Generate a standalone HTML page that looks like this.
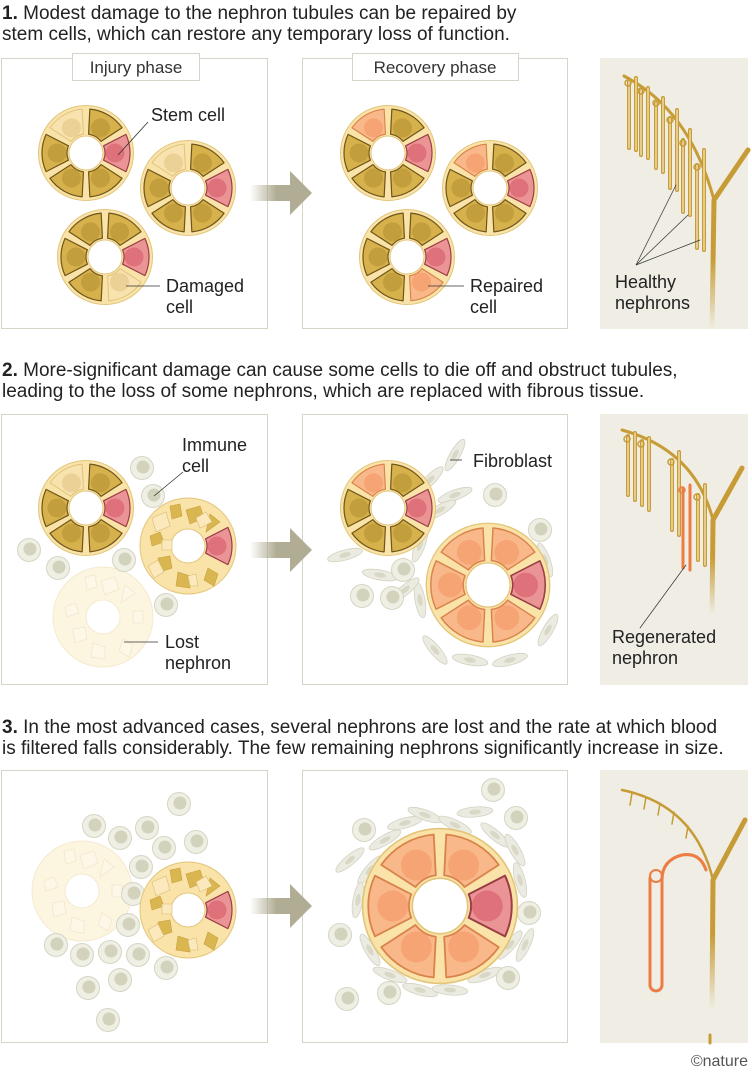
<!DOCTYPE html>
<html><head><meta charset="utf-8"><style>
html,body{margin:0;padding:0;background:#fff}
body{width:752px;height:1075px;overflow:hidden;font-family:"Liberation Sans",sans-serif}
</style></head><body>
<svg width="752" height="1075" viewBox="0 0 752 1075" xmlns="http://www.w3.org/2000/svg" font-family="Liberation Sans, sans-serif">
<defs>
<path id="w" d="M17.6,-7.2 L39.9,-18.6 A44 44 0 0 1 39.9,18.6 L17.6,7.2 A19 19 0 0 0 17.6,-7.2 Z" stroke-linejoin="round"/>
<g id="cG"><use href="#w" fill="#d6b14c" stroke="#6f5518" stroke-width="1.2"/><circle cx="29" r="9.5" fill="#c39e3c"/></g>
<g id="cP"><use href="#w" fill="#f8e3af" stroke="#e0c27c" stroke-width="1"/><circle cx="29" r="9.5" fill="#ecd196"/></g>
<g id="cR"><use href="#w" fill="#eb9496" stroke="#9a3d44" stroke-width="1.2"/><circle cx="29" r="9.5" fill="#de7179"/></g>
<g id="cO"><use href="#w" fill="#f9b88a" stroke="#d9824a" stroke-width="1.1"/><circle cx="29" r="9.5" fill="#f6a473"/></g>
<g id="ring"><circle r="47.5" fill="#f9e3a8" stroke="#e3c57a" stroke-width="1"/><circle r="17" fill="#fff" stroke="#e3c57a" stroke-width="1"/></g>
<g id="frag"><circle r="48" fill="#f9e3a8" stroke="#e3c57a" stroke-width="1"/><circle r="17" fill="#fff" stroke="#e3c57a"/>
<use href="#cR"/>
<path d="M-18,-40 l10,-2 2,12 -10,3z M-2,-36 l14,-4 4,12 -14,6z M-38,-10 l10,-4 4,10 -12,4z M-30,12 l12,-2 2,12 -12,4z M-10,26 l12,4 0,12 -14,-2z M20,22 l10,6 -4,12 -10,-6z M22,-32 l10,8 -14,10z" fill="#d9b64f" stroke="#c9a040" stroke-width="0.6"/>
<path d="M-36,-28 l14,-6 4,14 -14,6z M-40,20 l10,-6 6,12 -10,6z M8,-28 l10,-6 6,10 -12,6z M0,30 l8,-2 2,12 -8,0z M-26,-6 l10,0 0,10 -10,0z" fill="#fbe9bd" stroke="#d9bb70" stroke-width="0.6"/>
</g>
<g id="lost" opacity="0.35"><circle r="50" fill="#f9e3a8" stroke="#e3c57a"/><circle r="17" fill="#fff" stroke="#e3c57a"/>
<path d="M-18,-40 l10,-2 2,12 -10,3z M-2,-36 l14,-4 4,12 -14,6z M-38,-10 l10,-4 4,10 -12,4z M-30,12 l12,-2 2,12 -12,4z M-10,26 l12,4 0,12 -14,-2z M20,22 l10,6 -4,12 -10,-6z M22,-32 l10,8 -14,10z M30,-6 l10,0 0,12 -10,0z" fill="#fbeac0" stroke="#d9bb70" stroke-width="0.8"/></g>
<g id="im"><circle r="11.5" fill="#efefe4" stroke="#d5d5c4"/><circle cx="1" cy="-1" r="6.5" fill="#d3d2bd"/></g>
<g id="fb"><ellipse rx="18" ry="5" fill="#ecebe1" stroke="#d3d2c2" stroke-width="0.8"/><ellipse rx="6" ry="2.5" fill="#d9d8c7"/></g>
<linearGradient id="ag" x1="0" x2="1"><stop offset="0" stop-color="#b0ad94" stop-opacity="0"/><stop offset="0.6" stop-color="#b0ad94"/></linearGradient>
<g id="arrow"><rect x="0" y="-8" width="44" height="16" fill="url(#ag)"/><path d="M40,-22 L62,0 L40,22Z" fill="#b0ad94"/></g>
<linearGradient id="tr" x1="0" y1="0" x2="0" y2="1"><stop offset="0.6" stop-color="#c79c36"/><stop offset="1" stop-color="#c79c36" stop-opacity="0"/></linearGradient>
</defs>

<g font-size="19" fill="#222">
<text x="2" y="19"><tspan font-weight="bold">1.</tspan> Modest damage to the nephron tubules can be repaired by</text>
<text x="2" y="40">stem cells, which can restore any temporary loss of function.</text>
<text x="2" y="376"><tspan font-weight="bold">2.</tspan> More-significant damage can cause some cells to die off and obstruct tubules,</text>
<text x="2" y="397">leading to the loss of some nephrons, which are replaced with fibrous tissue.</text>
<text x="2" y="733"><tspan font-weight="bold">3.</tspan> In the most advanced cases, several nephrons are lost and the rate at which blood</text>
<text x="2" y="754">is filtered falls considerably. The few remaining nephrons significantly increase in size.</text>
</g>

<g fill="#fff" stroke="#d6d4c4" stroke-width="1">
<rect x="1.5" y="58.5" width="266" height="270"/><rect x="302.5" y="58.5" width="265" height="270"/>
<rect x="1.5" y="414.5" width="266" height="270"/><rect x="302.5" y="414.5" width="265" height="270"/>
<rect x="1.5" y="770.5" width="266" height="272"/><rect x="302.5" y="770.5" width="265" height="272"/>
</g>
<g fill="#efede4"><rect x="600" y="58" width="148" height="271"/><rect x="600" y="414" width="148" height="271"/><rect x="600" y="770" width="148" height="273"/></g>
<g fill="#fff" stroke="#d6d4c4"><rect x="72.5" y="53.5" width="127" height="27"/><rect x="352.5" y="53.5" width="166" height="27"/></g>
<g font-size="17" fill="#333"><text x="136" y="73" text-anchor="middle">Injury phase</text><text x="435" y="73" text-anchor="middle">Recovery phase</text></g>

<use href="#arrow" transform="translate(250,193)"/>
<use href="#arrow" transform="translate(250,550)"/>
<use href="#arrow" transform="translate(250,906)"/>

<g transform="translate(86,153)"><use href="#ring"/><use href="#cR"/><use href="#cG" transform="rotate(60)"/><use href="#cG" transform="rotate(120)"/><use href="#cG" transform="rotate(180)"/><use href="#cP" transform="rotate(240)"/><use href="#cG" transform="rotate(300)"/></g>
<g transform="translate(188,188)"><use href="#ring"/><use href="#cR"/><use href="#cG" transform="rotate(60)"/><use href="#cG" transform="rotate(120)"/><use href="#cG" transform="rotate(180)"/><use href="#cP" transform="rotate(240)"/><use href="#cG" transform="rotate(300)"/></g>
<g transform="translate(105,257)"><use href="#ring"/><use href="#cR"/><use href="#cP" transform="rotate(60)"/><use href="#cG" transform="rotate(120)"/><use href="#cG" transform="rotate(180)"/><use href="#cG" transform="rotate(240)"/><use href="#cG" transform="rotate(300)"/></g>
<g stroke="#333" stroke-width="0.8"><line x1="118" y1="155" x2="148" y2="122"/><line x1="126" y1="286" x2="160" y2="286"/></g>
<g font-size="18" fill="#222"><text x="151" y="121">Stem cell</text><text x="166" y="292">Damaged</text><text x="166" y="313">cell</text></g>

<g transform="translate(388,153)"><use href="#ring"/><use href="#cR"/><use href="#cG" transform="rotate(60)"/><use href="#cG" transform="rotate(120)"/><use href="#cG" transform="rotate(180)"/><use href="#cO" transform="rotate(240)"/><use href="#cG" transform="rotate(300)"/></g>
<g transform="translate(490,188)"><use href="#ring"/><use href="#cR"/><use href="#cG" transform="rotate(60)"/><use href="#cG" transform="rotate(120)"/><use href="#cG" transform="rotate(180)"/><use href="#cO" transform="rotate(240)"/><use href="#cG" transform="rotate(300)"/></g>
<g transform="translate(407,257)"><use href="#ring"/><use href="#cR"/><use href="#cO" transform="rotate(60)"/><use href="#cG" transform="rotate(120)"/><use href="#cG" transform="rotate(180)"/><use href="#cG" transform="rotate(240)"/><use href="#cG" transform="rotate(300)"/></g>
<line x1="428" y1="286" x2="464" y2="286" stroke="#333" stroke-width="0.8"/>
<g font-size="18" fill="#222"><text x="470" y="292">Repaired</text><text x="470" y="313">cell</text></g>

<g fill="none" stroke-linecap="round">
<path d="M712,330 L714,200 L748,150" stroke="url(#tr)" stroke-width="5"/>
<path d="M714,200 Q690,110 624,76" stroke="#c79c36" stroke-width="3"/>
<g stroke="#c79c36" stroke-width="4">
<path d="M629,80 L629,148 M636,78 L636,150"/><path d="M641,90 L641,155 M648,88 L648,158"/><path d="M656,103 L656,168 M663,98 L663,172"/>
<path d="M670,118 L670,188 M677,110 L677,190"/><path d="M683,140 L683,212 M690,130 L690,215"/><path d="M697,165 L697,248 M704,150 L704,250"/>
</g>
<g stroke="#f7e6b8" stroke-width="1.3">
<path d="M629,80 L629,148 M636,78 L636,150"/><path d="M641,90 L641,155 M648,88 L648,158"/><path d="M656,103 L656,168 M663,98 L663,172"/>
<path d="M670,118 L670,188 M677,110 L677,190"/><path d="M683,140 L683,212 M690,130 L690,215"/><path d="M697,165 L697,248 M704,150 L704,250"/>
</g>
<g stroke="#c79c36" stroke-width="1.5"><circle cx="628" cy="83" r="3"/><circle cx="641" cy="91" r="3"/><circle cx="656" cy="103" r="3"/><circle cx="670" cy="120" r="3"/><circle cx="683" cy="143" r="3"/><circle cx="697" cy="167" r="3"/></g>
<g stroke="#333" stroke-width="0.7"><path d="M636,265 L676,185 M636,265 L688,215 M636,265 L700,240"/></g>
</g>
<g font-size="18" fill="#222"><text x="615" y="288">Healthy</text><text x="615" y="309">nephrons</text></g>

<use href="#lost" transform="translate(103,617)"/>
<g transform="translate(86,508)"><use href="#ring"/><use href="#cR"/><use href="#cG" transform="rotate(60)"/><use href="#cG" transform="rotate(120)"/><use href="#cG" transform="rotate(180)"/><use href="#cP" transform="rotate(240)"/><use href="#cG" transform="rotate(300)"/></g>
<use href="#frag" transform="translate(188,546)"/>
<use href="#im" transform="translate(142,468)"/><use href="#im" transform="translate(153,496)"/><use href="#im" transform="translate(29,550)"/><use href="#im" transform="translate(58,568)"/><use href="#im" transform="translate(124,560)"/><use href="#im" transform="translate(166,605)"/>
<g stroke="#333" stroke-width="0.8"><line x1="154" y1="496" x2="183" y2="472"/><line x1="124" y1="642" x2="158" y2="642"/></g>
<g font-size="18" fill="#222"><text x="182" y="451">Immune</text><text x="182" y="472">cell</text><text x="165" y="648">Lost</text><text x="165" y="669">nephron</text></g>

<use href="#fb" transform="translate(455,455) rotate(-60)"/><use href="#fb" transform="translate(430,480) rotate(-45)"/><use href="#fb" transform="translate(455,495) rotate(-20)"/>
<use href="#fb" transform="translate(345,555) rotate(-15)"/><use href="#fb" transform="translate(380,575) rotate(10)"/><use href="#fb" transform="translate(420,600) rotate(80)"/><use href="#fb" transform="translate(420,545) rotate(-70)"/>
<use href="#fb" transform="translate(405,590) rotate(-40)"/><use href="#fb" transform="translate(435,650) rotate(50)"/><use href="#fb" transform="translate(470,660) rotate(10)"/><use href="#fb" transform="translate(510,660) rotate(-15)"/>
<use href="#fb" transform="translate(548,630) rotate(-60)"/><use href="#fb" transform="translate(370,535) rotate(30)"/>
<use href="#fb" transform="translate(440,510) rotate(-30)"/><use href="#fb" transform="translate(545,560) rotate(70)"/>
<use href="#im" transform="translate(495,495)"/><use href="#im" transform="translate(403,570)"/><use href="#im" transform="translate(362,596)"/><use href="#im" transform="translate(392,598)"/><use href="#im" transform="translate(540,530)"/>
<g transform="translate(388,508)"><use href="#ring"/><use href="#cR"/><use href="#cG" transform="rotate(60)"/><use href="#cG" transform="rotate(120)"/><use href="#cG" transform="rotate(180)"/><use href="#cO" transform="rotate(240)"/><use href="#cG" transform="rotate(300)"/></g>
<g transform="translate(488,585) scale(1.3)"><use href="#ring"/><use href="#cR"/><use href="#cO" transform="rotate(60)"/><use href="#cO" transform="rotate(120)"/><use href="#cO" transform="rotate(180)"/><use href="#cO" transform="rotate(240)"/><use href="#cO" transform="rotate(300)"/></g>
<line x1="450" y1="460" x2="462" y2="460" stroke="#333" stroke-width="0.8"/>
<text x="473" y="467" font-size="18" fill="#222">Fibroblast</text>

<g fill="none" stroke-linecap="round">
<path d="M712,615 L713,520 L742,468" stroke="url(#tr)" stroke-width="5"/>
<path d="M713,520 Q695,450 622,430" stroke="#c79c36" stroke-width="3"/>
<g stroke="#c79c36" stroke-width="4"><path d="M628,436 L628,495 M635,433 L635,500"/><path d="M642,441 L642,505 M649,438 L649,510"/><path d="M672,460 L672,530 M679,452 L679,535"/><path d="M698,495 L698,560 M705,485 L705,565"/></g>
<g stroke="#f7e6b8" stroke-width="1.3"><path d="M628,436 L628,495 M635,433 L635,500"/><path d="M642,441 L642,505 M649,438 L649,510"/><path d="M672,460 L672,530 M679,452 L679,535"/><path d="M698,495 L698,560 M705,485 L705,565"/></g>
<path d="M683,488 L683,568 M690,485 L690,570" stroke="#ee7d45" stroke-width="3"/>
<g stroke="#c79c36" stroke-width="1.5"><circle cx="627" cy="439" r="3"/><circle cx="641" cy="444" r="3"/><circle cx="671" cy="462" r="3"/><circle cx="697" cy="497" r="3"/></g>
<circle cx="682" cy="490" r="3" stroke="#ee7d45" stroke-width="1.5"/>
<line x1="640" y1="628" x2="686" y2="565" stroke="#333" stroke-width="0.7"/>
</g>
<g font-size="18" fill="#222"><text x="612" y="643">Regenerated</text><text x="612" y="664">nephron</text></g>

<use href="#lost" transform="translate(82,891)"/>
<use href="#im" transform="translate(179,804)"/><use href="#im" transform="translate(94,826)"/><use href="#im" transform="translate(120,838)"/><use href="#im" transform="translate(147,828)"/><use href="#im" transform="translate(164,848)"/><use href="#im" transform="translate(196,842)"/><use href="#im" transform="translate(141,867)"/><use href="#im" transform="translate(133,894)"/>
<use href="#frag" transform="translate(188,910)"/>
<use href="#im" transform="translate(128,925)"/><use href="#im" transform="translate(56,945)"/><use href="#im" transform="translate(82,955)"/><use href="#im" transform="translate(110,952)"/><use href="#im" transform="translate(138,955)"/><use href="#im" transform="translate(166,968)"/><use href="#im" transform="translate(88,988)"/><use href="#im" transform="translate(120,980)"/><use href="#im" transform="translate(108,1020)"/>

<g>
<use href="#fb" transform="translate(405,823) rotate(-15)"/><use href="#fb" transform="translate(425,815) rotate(20)"/><use href="#fb" transform="translate(475,812) rotate(-5)"/><use href="#fb" transform="translate(455,825) rotate(25)"/><use href="#fb" transform="translate(495,835) rotate(40)"/><use href="#fb" transform="translate(515,850) rotate(60)"/>
<use href="#fb" transform="translate(385,840) rotate(-30)"/><use href="#fb" transform="translate(350,860) rotate(-40)"/><use href="#fb" transform="translate(370,870) rotate(-50)"/><use href="#fb" transform="translate(358,900) rotate(-80)"/>
<use href="#fb" transform="translate(370,950) rotate(60)"/><use href="#fb" transform="translate(390,975) rotate(20)"/><use href="#fb" transform="translate(420,990) rotate(15)"/><use href="#fb" transform="translate(450,990) rotate(5)"/><use href="#fb" transform="translate(485,975) rotate(-20)"/>
<use href="#fb" transform="translate(510,945) rotate(-50)"/><use href="#fb" transform="translate(525,945) rotate(-65)"/><use href="#fb" transform="translate(520,880) rotate(75)"/>
<use href="#im" transform="translate(493,790)"/><use href="#im" transform="translate(516,818)"/><use href="#im" transform="translate(364,830)"/><use href="#im" transform="translate(529,913)"/><use href="#im" transform="translate(340,935)"/><use href="#im" transform="translate(508,978)"/><use href="#im" transform="translate(389,993)"/><use href="#im" transform="translate(347,999)"/>
<g transform="translate(440,906) scale(1.63)"><use href="#ring"/><use href="#cR"/><use href="#cO" transform="rotate(60)"/><use href="#cO" transform="rotate(120)"/><use href="#cO" transform="rotate(180)"/><use href="#cO" transform="rotate(240)"/><use href="#cO" transform="rotate(300)"/></g>
</g>

<g fill="none" stroke-linecap="round">
<path d="M712,1010 L713,880 L745,820" stroke="url(#tr)" stroke-width="5"/>
<path d="M713,880 Q695,805 622,790" stroke="#c79c36" stroke-width="2.5"/>
<g stroke="#c79c36" stroke-width="1.5"><path d="M632,793 l-2,12 M646,797 l-2,12 M660,803 l-2,12 M674,812 l-2,12 M688,826 l-2,12"/></g>
<path d="M650,878 L650,985 A6 6 0 0 0 662,985 L662,880 Q662,860 682,855 Q700,852 706,870" stroke="#ee7d45" stroke-width="3"/>
<circle cx="656" cy="876" r="6" stroke="#ee7d45" stroke-width="2"/>
<path d="M710,1035 l0,8" stroke="#c79c36" stroke-width="3"/>
</g>
<text x="748" y="1066" font-size="16" fill="#555" text-anchor="end">©nature</text>
</svg>
</body></html>
